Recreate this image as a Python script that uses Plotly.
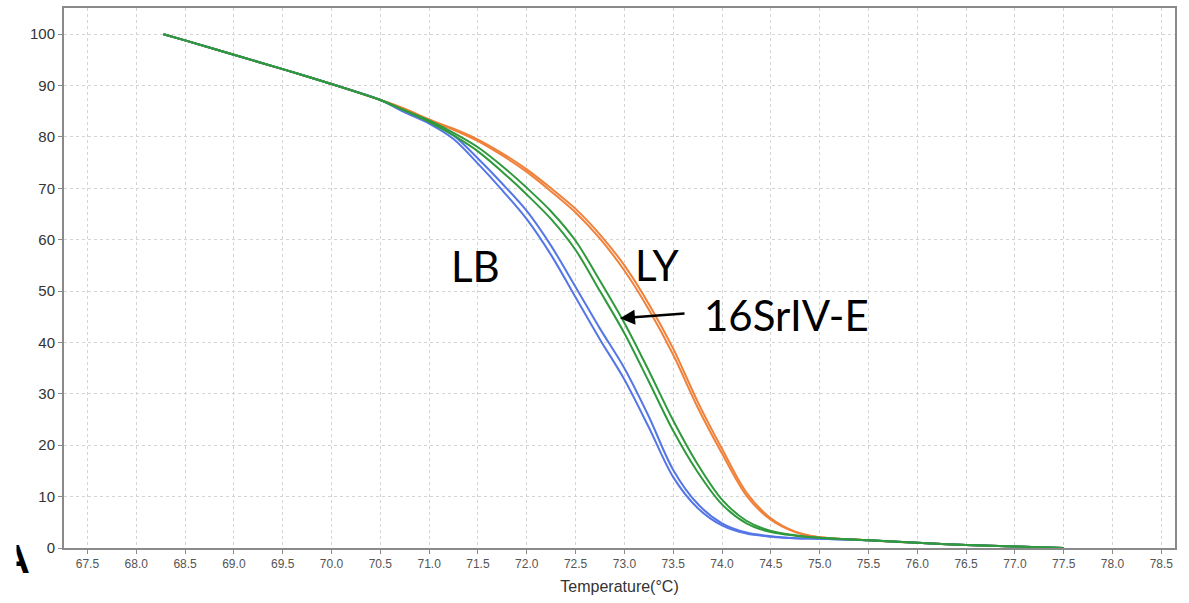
import plotly.graph_objects as go

# Temperature grid (°C)
temps = [68.28, 68.5, 69.0, 69.5, 70.0, 70.5, 70.75, 71.0, 71.25, 71.5, 71.75,
         72.0, 72.25, 72.5, 72.75, 73.0, 73.25, 73.5, 73.75, 74.0, 74.25,
         74.5, 74.75, 75.0, 75.5, 76.0, 76.5, 77.0, 77.5]

# LY (orange), two replicates
ly_a = [100, 98.8, 96.0, 93.2, 90.3, 87.2, 85.5, 83.4, 81.6, 79.5, 76.8,
        73.7, 70.0, 66.0, 61.0, 55.0, 47.5, 38.8, 28.5, 19.3, 10.8,
        5.8, 3.2, 2.1, 1.5, 1.0, 0.6, 0.3, 0.0]
ly_b = [100, 98.8, 96.0, 93.2, 90.3, 87.2, 85.4, 83.3, 81.4, 79.2, 76.4,
        73.2, 69.4, 65.3, 60.2, 54.0, 46.4, 37.6, 27.4, 18.4, 10.2,
        5.5, 3.1, 2.1, 1.5, 1.0, 0.6, 0.3, 0.0]

# LB (blue), two replicates
lb_a = [100, 98.8, 96.0, 93.2, 90.3, 87.2, 85.0, 83.0, 80.3, 75.8, 70.9,
        65.6, 58.8, 50.8, 42.7, 35.0, 25.6, 15.2, 8.6, 4.8, 3.0,
        2.3, 1.9, 1.8, 1.5, 1.0, 0.6, 0.3, 0.0]
lb_b = [100, 98.8, 96.0, 93.2, 90.3, 87.2, 84.8, 82.6, 79.6, 74.8, 69.6,
        64.0, 57.0, 48.8, 40.6, 32.8, 23.5, 13.8, 7.8, 4.4, 2.8,
        2.2, 1.9, 1.8, 1.5, 1.0, 0.6, 0.3, 0.0]

# 16SrIV-E (green), two replicates
sr_a = [100, 98.8, 96.0, 93.2, 90.3, 87.2, 85.2, 83.2, 80.8, 78.0, 74.3,
        70.1, 65.5, 59.8, 52.0, 43.8, 34.5, 24.8, 16.3, 9.4, 5.3,
        3.3, 2.5, 2.0, 1.5, 1.0, 0.6, 0.3, 0.0]
sr_b = [100, 98.8, 96.0, 93.2, 90.3, 87.2, 85.1, 82.9, 80.3, 77.2, 73.2,
        68.8, 64.0, 58.0, 50.0, 41.8, 32.4, 22.8, 14.8, 8.5, 4.8,
        3.1, 2.4, 2.0, 1.5, 1.0, 0.6, 0.3, 0.0]

x_ticks = [67.5 + 0.5 * i for i in range(23)]
y_ticks = [0, 10, 20, 30, 40, 50, 60, 70, 80, 90, 100]

ORANGE = "#f0813a"
BLUE = "#5576e6"
GREEN = "#2f9a3c"

fig = go.Figure()
for ys, c in [(ly_a, ORANGE), (ly_b, ORANGE), (lb_a, BLUE), (lb_b, BLUE),
              (sr_a, GREEN), (sr_b, GREEN)]:
    fig.add_trace(go.Scatter(x=temps, y=ys, mode="lines",
                             line=dict(color=c, width=2, shape="spline", smoothing=0.9),
                             showlegend=False))

fig.update_layout(
    width=1189, height=603,
    margin=dict(l=64, r=14, t=6, b=55),
    paper_bgcolor="white", plot_bgcolor="white",
    font=dict(family="Liberation Sans, Arial, sans-serif", color="#333"),
    xaxis=dict(
        range=[67.26, 78.64], tickvals=x_ticks, tickformat=".1f",
        showgrid=True, gridcolor="#d4d4d4", griddash="dot", gridwidth=1,
        showline=True, linecolor="#8a8a8a", linewidth=2, mirror=True,
        ticks="outside", ticklen=4, tickcolor="#8a8a8a",
        tickfont=dict(size=12, color="#555", family="Liberation Sans Narrow, Liberation Sans, sans-serif"),
        title=dict(text="Temperature(°C)", font=dict(size=16, color="#333"), standoff=10),
        zeroline=False,
    ),
    yaxis=dict(
        range=[0, 105.1], tickvals=y_ticks,
        showgrid=True, gridcolor="#d4d4d4", griddash="dot", gridwidth=1,
        showline=True, linecolor="#8a8a8a", linewidth=2, mirror=True,
        ticks="outside", ticklen=4, tickcolor="#8a8a8a",
        tickfont=dict(size=15, color="#333"),
        zeroline=False,
    ),
)

label_font = dict(family="Lato, Open Sans, sans-serif", size=42, color="black")
fig.add_annotation(x=71.47, y=54.8, text="LB", showarrow=False, font=label_font)
fig.add_annotation(x=73.34, y=55.1, text="LY", showarrow=False, font=label_font)
fig.add_annotation(x=74.66, y=45.4, text="16SrIV-E", showarrow=False, font=label_font)
fig.add_annotation(x=72.955, y=44.7, text="", showarrow=True, arrowhead=2,
                   arrowsize=1.2, arrowwidth=2.5, arrowcolor="black",
                   ax=66, ay=-5, axref="pixel", ayref="pixel")

# panel letter (left half hidden as in the cropped original)
fig.add_annotation(xref="paper", yref="paper", x=-0.0437, y=-0.02, text="<b>A</b>",
                   showarrow=False, font=dict(family="Liberation Sans", size=40, color="black"),
                   xanchor="center", yanchor="middle", borderpad=0)
fig.add_annotation(xref="paper", yref="paper", x=-0.0425, y=-0.02, text=" ",
                   showarrow=False, xanchor="right", yanchor="middle",
                   width=17, height=50, bgcolor="white", borderpad=0)

fig.write_html("out.html")
